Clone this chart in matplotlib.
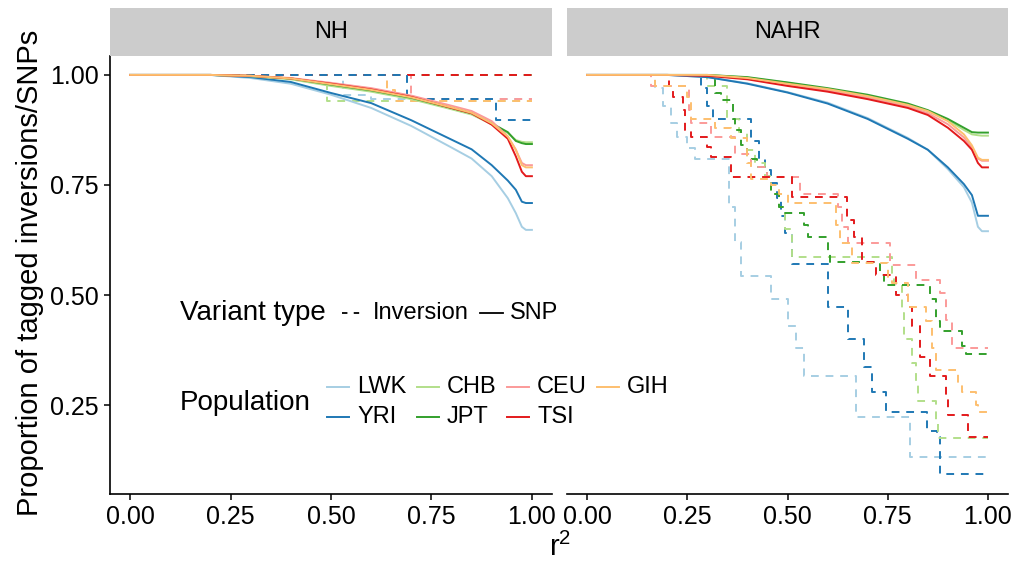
import matplotlib
matplotlib.use("Agg")
import matplotlib.pyplot as plt
from matplotlib.lines import Line2D

plt.rcParams['font.family'] = ['Liberation Sans', 'DejaVu Sans']
plt.rcParams['mathtext.default'] = 'regular'

populations = ['LWK', 'YRI', 'CHB', 'JPT', 'CEU', 'TSI', 'GIH']
pop_colors = {'LWK': '#A6CEE3', 'YRI': '#1F78B4', 'CHB': '#B2DF8A', 'JPT': '#33A02C',
              'CEU': '#FB9A99', 'TSI': '#E31A1C', 'GIH': '#FDBF6F'}
panels = ['NH', 'NAHR']

# SNP curves (solid) at these r^2 values
snp_x = [0, 0.2, 0.3, 0.4, 0.5, 0.6, 0.7, 0.8, 0.85, 0.9, 0.94, 0.96, 0.975, 0.985, 1.0]
nh_snp = {
    'LWK': [1, 1, 0.993, 0.98, 0.955, 0.925, 0.884, 0.835, 0.81, 0.77, 0.72, 0.686, 0.655, 0.648, 0.648],
    'YRI': [1, 1, 0.995, 0.984, 0.959, 0.936, 0.897, 0.853, 0.831, 0.795, 0.76, 0.739, 0.712, 0.709, 0.709],
    'CHB': [1, 1, 0.997, 0.99, 0.975, 0.962, 0.945, 0.922, 0.91, 0.888, 0.868, 0.852, 0.848, 0.847, 0.847],
    'JPT': [1, 1, 0.998, 0.992, 0.978, 0.965, 0.948, 0.925, 0.913, 0.89, 0.87, 0.85, 0.845, 0.843, 0.843],
    'CEU': [1, 1, 0.998, 0.993, 0.982, 0.97, 0.953, 0.93, 0.918, 0.895, 0.86, 0.83, 0.8, 0.795, 0.795],
    'TSI': [1, 1, 0.998, 0.992, 0.98, 0.967, 0.95, 0.925, 0.913, 0.887, 0.855, 0.815, 0.78, 0.77, 0.77],
    'GIH': [1, 1, 0.998, 0.992, 0.979, 0.966, 0.949, 0.926, 0.914, 0.89, 0.86, 0.83, 0.795, 0.79, 0.79],
}
nahr_snp = {
    'LWK': [1, 1, 0.995, 0.981, 0.961, 0.937, 0.902, 0.857, 0.83, 0.786, 0.745, 0.71, 0.655, 0.645, 0.645],
    'YRI': [1, 1, 0.995, 0.98, 0.96, 0.935, 0.90, 0.855, 0.83, 0.79, 0.752, 0.727, 0.68, 0.68, 0.68],
    'CHB': [1, 1, 1, 0.994, 0.982, 0.968, 0.952, 0.932, 0.918, 0.897, 0.875, 0.865, 0.863, 0.862, 0.862],
    'JPT': [1, 1, 1, 0.995, 0.983, 0.97, 0.955, 0.935, 0.92, 0.9, 0.88, 0.87, 0.869, 0.869, 0.869],
    'CEU': [1, 1, 0.999, 0.992, 0.978, 0.965, 0.948, 0.928, 0.913, 0.888, 0.858, 0.835, 0.81, 0.805, 0.805],
    'TSI': [1, 1, 0.998, 0.99, 0.975, 0.962, 0.945, 0.925, 0.909, 0.88, 0.85, 0.83, 0.8, 0.79, 0.79],
    'GIH': [1, 1, 1, 0.993, 0.98, 0.968, 0.952, 0.932, 0.918, 0.895, 0.865, 0.84, 0.812, 0.807, 0.807],
}

# inversion step curves (dashed): r^2 where the step happens, proportion after it
nh_inv_x = {
    'LWK': [0, 0.53, 0.60, 1.0], 'YRI': [0, 0.69, 0.91, 1.0], 'CHB': [0, 0.49, 1.0],
    'JPT': [0, 1.0], 'CEU': [0, 0.70, 1.0], 'TSI': [0, 1.0], 'GIH': [0, 0.64, 0.66, 1.0],
}
nh_inv_y = {
    'LWK': [1.0, 0.955, 0.945, 0.945], 'YRI': [1.0, 0.945, 0.898, 0.898], 'CHB': [1.0, 0.94, 0.94],
    'JPT': [1.0, 1.0], 'CEU': [1.0, 0.945, 0.945], 'TSI': [1.0, 1.0], 'GIH': [1.0, 0.965, 0.94, 0.94],
}
nahr_inv_x = {
    'LWK': [0, 0.17, 0.19, 0.21, 0.225, 0.25, 0.27, 0.355, 0.37, 0.385, 0.46, 0.50, 0.52, 0.54,
            0.67, 0.805, 1.0],
    'YRI': [0, 0.285, 0.30, 0.315, 0.41, 0.43, 0.445, 0.46, 0.475, 0.485, 0.495, 0.51, 0.60,
            0.65, 0.69, 0.71, 0.745, 0.848, 0.873, 0.88, 1.0],
    'CHB': [0, 0.30, 0.35, 0.38, 0.40, 0.42, 0.445, 0.46, 0.48, 0.495, 0.51, 0.76, 0.765, 0.785,
            0.79, 0.81, 0.82, 0.825, 0.87, 0.875, 1.0],
    'JPT': [0, 0.32, 0.335, 0.365, 0.37, 0.385, 0.40, 0.425, 0.45, 0.46, 0.48, 0.49, 0.54, 0.55,
            0.60, 0.605, 0.73, 0.74, 0.855, 0.87, 0.88, 0.935, 0.945, 1.0],
    'CEU': [0, 0.16, 0.255, 0.26, 0.31, 0.37, 0.41, 0.45, 0.53, 0.625, 0.635, 0.65, 0.755, 0.82,
            0.88, 0.895, 0.91, 1.0],
    'TSI': [0, 0.205, 0.215, 0.24, 0.245, 0.26, 0.30, 0.31, 0.36, 0.51, 0.648, 0.665, 0.685,
            0.72, 0.77, 0.80, 0.81, 0.83, 0.855, 0.895, 0.90, 0.95, 1.0],
    'GIH': [0, 0.17, 0.25, 0.26, 0.32, 0.36, 0.40, 0.41, 0.46, 0.48, 0.50, 0.62, 0.63, 0.66,
            0.75, 0.76, 0.80, 0.845, 0.86, 0.87, 0.925, 0.935, 0.97, 0.975, 1.0],
}
nahr_inv_y = {
    'LWK': [1.0, 0.97, 0.93, 0.89, 0.86, 0.835, 0.81, 0.70, 0.62, 0.543, 0.49, 0.43, 0.38, 0.316,
            0.223, 0.132, 0.132],
    'YRI': [1.0, 0.97, 0.93, 0.90, 0.85, 0.81, 0.785, 0.755, 0.72, 0.68, 0.64, 0.57, 0.473,
            0.40, 0.336, 0.28, 0.234, 0.19, 0.177, 0.093, 0.093],
    'CHB': [1.0, 0.975, 0.90, 0.87, 0.83, 0.80, 0.77, 0.73, 0.70, 0.65, 0.586, 0.55, 0.527, 0.46,
            0.40, 0.345, 0.30, 0.26, 0.21, 0.175, 0.175],
    'JPT': [1.0, 0.96, 0.943, 0.90, 0.875, 0.84, 0.81, 0.79, 0.768, 0.73, 0.70, 0.686, 0.66, 0.632,
            0.60, 0.575, 0.545, 0.523, 0.49, 0.44, 0.418, 0.385, 0.366, 0.366],
    'CEU': [1.0, 0.975, 0.92, 0.89, 0.86, 0.82, 0.79, 0.768, 0.73, 0.70, 0.655, 0.618, 0.568,
            0.534, 0.505, 0.443, 0.38, 0.38],
    'TSI': [1.0, 0.975, 0.95, 0.92, 0.875, 0.859, 0.836, 0.814, 0.768, 0.723, 0.67, 0.632, 0.575,
            0.545, 0.50, 0.473, 0.43, 0.36, 0.316, 0.27, 0.227, 0.177, 0.177],
    'GIH': [1.0, 0.975, 0.95, 0.90, 0.88, 0.857, 0.80, 0.764, 0.75, 0.73, 0.71, 0.66, 0.618, 0.573,
            0.54, 0.527, 0.473, 0.44, 0.38, 0.33, 0.30, 0.28, 0.25, 0.234, 0.234],
}

W, H = 1014, 566


def fx(px):
    return px / W


def fy(py):
    return 1 - py / H


fig = plt.figure(figsize=(W / 100, H / 100), dpi=100)
fig.patch.set_facecolor('white')

ax_nh = fig.add_axes([fx(110), fy(494), 442 / W, 438 / H])
ax_nahr = fig.add_axes([fx(567), fy(494), 441 / W, 438 / H])

dash = (4, 3.5)
lw = 1.4

nh_order = ['LWK', 'CHB', 'JPT', 'CEU', 'GIH', 'TSI', 'YRI']
for p in nh_order:
    ax_nh.plot(nh_inv_x[p], nh_inv_y[p], drawstyle='steps-post', color=pop_colors[p],
               lw=lw, dashes=dash)
for p in populations:
    ax_nh.plot(snp_x, nh_snp[p], color=pop_colors[p], lw=lw)

for p in populations:
    ax_nahr.plot(nahr_inv_x[p], nahr_inv_y[p], drawstyle='steps-post', color=pop_colors[p],
                 lw=lw, dashes=dash)
for p in populations:
    ax_nahr.plot(snp_x, nahr_snp[p], color=pop_colors[p], lw=lw)

for ax, name, x0, w in [(ax_nh, 'NH', 110, 442), (ax_nahr, 'NAHR', 567, 441)]:
    ax.set_xlim(-0.05, 1.05)
    ax.set_ylim(0.048, 1.043)
    ax.set_xticks([0, 0.25, 0.5, 0.75, 1.0])
    ax.set_xticklabels(['0.00', '0.25', '0.50', '0.75', '1.00'])
    ax.set_yticks([0.25, 0.5, 0.75, 1.0])
    ax.set_yticklabels(['0.25', '0.50', '0.75', '1.00'])
    for s in ['top', 'right']:
        ax.spines[s].set_visible(False)
    for s in ['left', 'bottom']:
        ax.spines[s].set_linewidth(1.2)
    ax.tick_params(length=4, width=1.1, labelsize=18, pad=4, colors='black')
    strip = fig.add_axes([fx(x0), fy(56), w / W, 48 / H])
    strip.set_facecolor('#CCCCCC')
    strip.set_xticks([])
    strip.set_yticks([])
    for s in strip.spines.values():
        s.set_visible(False)
    strip.text(0.5, 0.5, name, ha='center', va='center', fontsize=17, transform=strip.transAxes)

ax_nahr.spines['left'].set_visible(False)
ax_nahr.tick_params(axis='y', left=False, labelleft=False)

fig.text(fx(30), fy(273), 'Proportion of tagged inversions/SNPs', rotation=90,
         ha='center', va='center', fontsize=21)
fig.text(fx(560), fy(547), 'r$^2$', ha='center', va='center', fontsize=21)

# legend: variant type
fig.text(fx(180), fy(313), 'Variant type', ha='left', va='center', fontsize=20)
fig.add_artist(Line2D([fx(342), fx(362)], [fy(313), fy(313)], color='black', lw=1.3,
                      dashes=(3, 3.5), transform=fig.transFigure))
fig.text(fx(373), fy(313), 'Inversion', ha='left', va='center', fontsize=17)
fig.add_artist(Line2D([fx(480), fx(503)], [fy(313), fy(313)], color='black', lw=1.3,
                      transform=fig.transFigure))
fig.text(fx(510), fy(313), 'SNP', ha='left', va='center', fontsize=17)

# legend: population (column-wise, 2 rows)
fig.text(fx(180), fy(403), 'Population', ha='left', va='center', fontsize=20)
key_cols = [327, 417, 507, 597]
key_rows = [387, 417]
for i, p in enumerate(populations):
    col, row = divmod(i, 2)
    kx = key_cols[col]
    ky = key_rows[row]
    fig.add_artist(Line2D([fx(kx), fx(kx + 22)], [fy(ky), fy(ky)], color=pop_colors[p], lw=1.4,
                          transform=fig.transFigure))
    fig.text(fx(kx + 30), fy(ky), p, ha='left', va='center', fontsize=17)

fig.savefig('out.png', dpi=100)
